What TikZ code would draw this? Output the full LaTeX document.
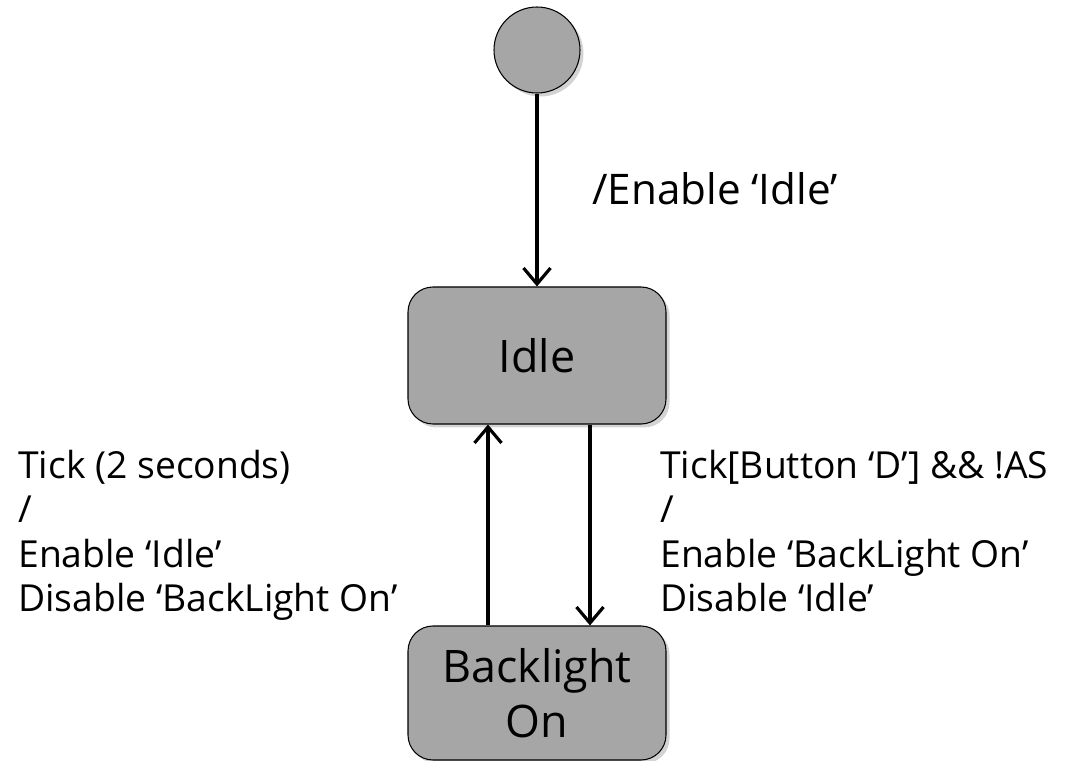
\documentclass[tikz,border=0pt]{standalone}
\usepackage{fontspec}
\setmainfont{Open Sans}
\usepackage{tikz}
\usetikzlibrary{arrows.meta, shadows, positioning}

\definecolor{boxgray}{RGB}{166,166,166}

\tikzset{
  state/.style={rectangle, rounded corners=0.5cm, draw=black, line width=0.6pt, fill=boxgray,
    minimum width=5.16cm, minimum height=2.74cm, align=center, font=\fontsize{25.5}{31}\selectfont,
    drop shadow={shadow xshift=0.07cm, shadow yshift=-0.07cm, opacity=0.35}},
  initstate/.style={circle, draw=black, line width=0.6pt, fill=boxgray, minimum size=1.72cm, inner sep=0pt,
    drop shadow={shadow xshift=0.07cm, shadow yshift=-0.07cm, opacity=0.35}},
  trans/.style={->, line width=1.8pt},
  guard/.style={align=left, inner sep=0pt, font=\fontsize{21.2}{25.2}\selectfont}
}

\begin{document}
\begin{tikzpicture}[>={Straight Barb[length=3.2mm,width=5.4mm]}]
\useasboundingbox (0,0) rectangle (21.32,-15.22);
% The states
\node [initstate] (init) at (10.74,-1.0) {};
\node [state] (idle) at (10.74,-7.11) {Idle};
\node [state, minimum height=2.68cm] (backlight) at (10.74,-13.86) {Backlight\\On};
% Transitions
\draw [trans] (init) -- (idle);
\draw [trans] ([xshift=-0.98cm]backlight.north) -- ([xshift=-0.98cm]idle.south);
\draw [trans] ([xshift=1.06cm]idle.south) -- ([xshift=1.06cm]backlight.north);
% Labels
\node [guard, anchor=base west, font=\fontsize{24}{28}\selectfont] (enablelbl) at (11.84,-4.1) {/Enable ‘Idle’};
\node [guard, anchor=north west] (backlbl) at (0.36,-9.0) {Tick (2 seconds)\\/\\Enable ‘Idle’\\Disable ‘BackLight On’};
\node [guard, anchor=north west] (onlbl) at (13.2,-9.0) {Tick[Button ‘D’] \&\& !AS\\/\\Enable ‘BackLight On’\\Disable ‘Idle’};
\end{tikzpicture}
\end{document}
